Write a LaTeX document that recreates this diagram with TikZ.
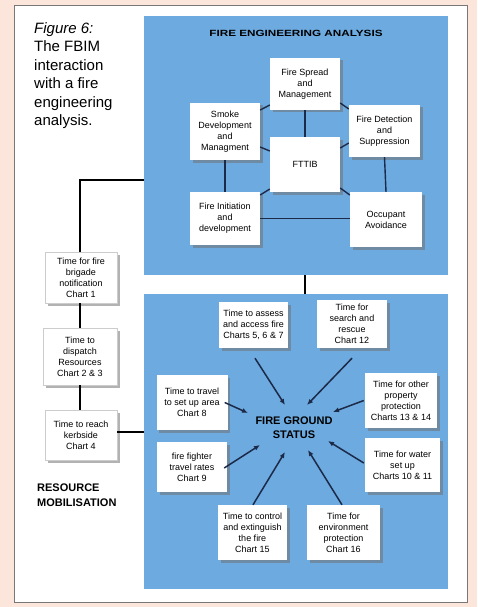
\documentclass[tikz,border=0pt]{standalone}
\usepackage{fontspec}
\usepackage{graphicx}
\setmainfont{Liberation Sans}
\usetikzlibrary{shadows,arrows.meta}
\definecolor{pinkbg}{RGB}{252,229,218}
\definecolor{panelblue}{RGB}{108,170,224}
\definecolor{navy}{RGB}{28,42,72}
\definecolor{frame}{RGB}{120,120,120}
\tikzset{
  box/.style={fill=white, align=center, inner sep=1pt,
    font=\fontsize{9}{11}\selectfont,
    drop shadow={fill=black!55, shadow xshift=2.5pt, shadow yshift=-2.5pt, opacity=0.55}},
  lbox/.style={box, draw=black!20, line width=0.4pt},
  ring/.style={draw=navy, line width=1.4pt},
  chain/.style={draw=black, line width=1.2pt},
  arr/.style={draw=navy, line width=1.5pt, -{Latex[length=6pt,width=5pt]}},
}
\begin{document}
\begin{tikzpicture}[x=1pt,y=-1pt]
\useasboundingbox (0,0) rectangle (477,607);
\fill[pinkbg] (0,0) rectangle (477,607);
\draw[frame, fill=white, line width=1pt] (14,6) rectangle (467,602);
% blue panels
\fill[panelblue] (144,16) rectangle (448,275);
\fill[panelblue] (144,294) rectangle (448,589);

% caption
\node[anchor=north west, align=left, font=\fontsize{15}{18.5}\selectfont, inner sep=0pt] (cap) at (34,22)
  {\textit{Figure 6:}\\The FBIM\\interaction\\with a fire\\engineering\\analysis.};

\node[font=\fontsize{9}{11}\selectfont\bfseries] (title) at (296,33) {\scalebox{1.3}[1]{FIRE ENGINEERING ANALYSIS}};

% top analysis nodes
\node[box, minimum width=70pt, minimum height=52pt] (spread) at (305,84) {Fire Spread\\and\\Management};
\node[box, minimum width=71pt, minimum height=52pt] (detect) at (384.5,131) {Fire Detection\\and\\Suppression};
\node[box, minimum width=70pt, minimum height=55pt] (fttib) at (305,164.5) {FTTIB};
\node[box, minimum width=70pt, minimum height=57pt] (smoke) at (225,131.5) {Smoke\\Development\\and\\Managment};
\node[box, minimum width=70pt, minimum height=53pt] (init) at (225,218.5) {Fire Initiation\\and\\development};
\node[box, minimum width=72pt, minimum height=55pt] (occ) at (386,219.5) {Occupant\\Avoidance};

\draw[ring] (spread.south) -- (fttib.north);
\draw[ring] (smoke.south) -- (init.north);
\draw[ring] (detect.south) -- (occ.north);
\draw[ring] (init.east) -- (occ.west |- init.east);
\draw[ring] (smoke.east |- 0,110) -- (spread.west |- 0,105);
\draw[ring] (spread.east |- 0,103) -- (detect.west |- 0,109);
\draw[ring] (smoke.east |- 0,147) -- (fttib.west |- 0,151);
\draw[ring] (fttib.east |- 0,148) -- (detect.west |- 0,143);
\draw[ring] (init.east |- 0,195) -- (fttib.west |- 0,189);
\draw[ring] (fttib.east |- 0,188) -- (occ.west |- 0,195);

% resource mobilisation column
\node[lbox, minimum width=72pt, minimum height=51pt] (notif) at (81,277.5) {Time for fire\\brigade\\notification\\Chart 1};
\node[lbox, minimum width=74pt, minimum height=57pt] (disp) at (80,356.5) {Time to\\dispatch\\Resources\\Chart 2 \& 3};
\node[lbox, minimum width=72pt, minimum height=50pt] (kerb) at (81,435) {Time to reach\\kerbside\\Chart 4};

\coordinate (topleft) at (144,180);
\coordinate (bend) at (80,180);
\coordinate (botleft) at (144,432);
\coordinate (topmid) at (305,275);
\coordinate (botmid) at (305,294);
\draw[chain] (topleft) -- (bend) -- (bend |- notif.north);
\draw[chain] (notif.south -| bend) -- (disp.north -| bend);
\draw[chain] (disp.south -| bend) -- (kerb.north -| bend);
\draw[chain] (kerb.east |- botleft) -- (botleft);
\draw[chain] (topmid) -- (botmid);

\node[anchor=north west, align=left, font=\fontsize{11}{15}\selectfont\bfseries, inner sep=0pt] (resmob) at (37,484) {RESOURCE\\MOBILISATION};

% fire ground
\node[font=\fontsize{11}{14}\selectfont\bfseries, align=center] (status) at (294,427.5) {FIRE GROUND\\STATUS};

\node[box, minimum width=69pt, minimum height=46pt] (assess) at (253.5,325) {Time to assess\\and access fire\\Charts 5, 6 \& 7};
\node[box, minimum width=70pt, minimum height=48pt] (search) at (352,324) {Time for\\search and\\rescue\\Chart 12};
\node[box, minimum width=72pt, minimum height=55pt] (prop) at (401,400.5) {Time for other\\property\\protection\\Charts 13 \& 14};
\node[box, minimum width=71pt, minimum height=55pt] (travel) at (192,402.5) {Time to travel\\to set up area\\Chart 8};
\node[box, minimum width=70pt, minimum height=50pt] (fighter) at (192,467) {fire fighter\\travel rates\\Chart 9};
\node[box, minimum width=75pt, minimum height=54pt] (water) at (402.5,465) {Time for water\\set up\\Charts 10 \& 11};
\node[box, minimum width=69pt, minimum height=55pt] (control) at (252.5,532.5) {Time to control\\and extinguish\\the fire\\Chart 15};
\node[box, minimum width=73pt, minimum height=55pt] (env) at (343.5,532.5) {Time for\\environment\\protection\\Chart 16};

\coordinate (t1) at (285,405);
\coordinate (t2) at (307,405);
\coordinate (t3) at (333,412);
\coordinate (t4) at (248,413);
\coordinate (t5) at (260,445);
\coordinate (t6) at (328,441);
\coordinate (t7) at (285,452);
\coordinate (t8) at (308,450);

\draw[arr] ([shift={(1.5,10)}]assess.south) -- (t1);
\draw[arr] ([shift={(0,10)}]search.south) -- (t2);
\draw[arr] ([shift={(-1,0)}]prop.west) -- (t3);
\draw[arr] ([shift={(-3,0)}]travel.east) -- (t4);
\draw[arr] ([shift={(-3,1)}]fighter.east) -- (t5);
\draw[arr] ([shift={(-1,-2)}]water.west) -- (t6);
\draw[arr] ([shift={(0.5,0)}]control.north) -- (t7);
\draw[arr] ([shift={(-1.5,0)}]env.north) -- (t8);
\end{tikzpicture}
\end{document}
